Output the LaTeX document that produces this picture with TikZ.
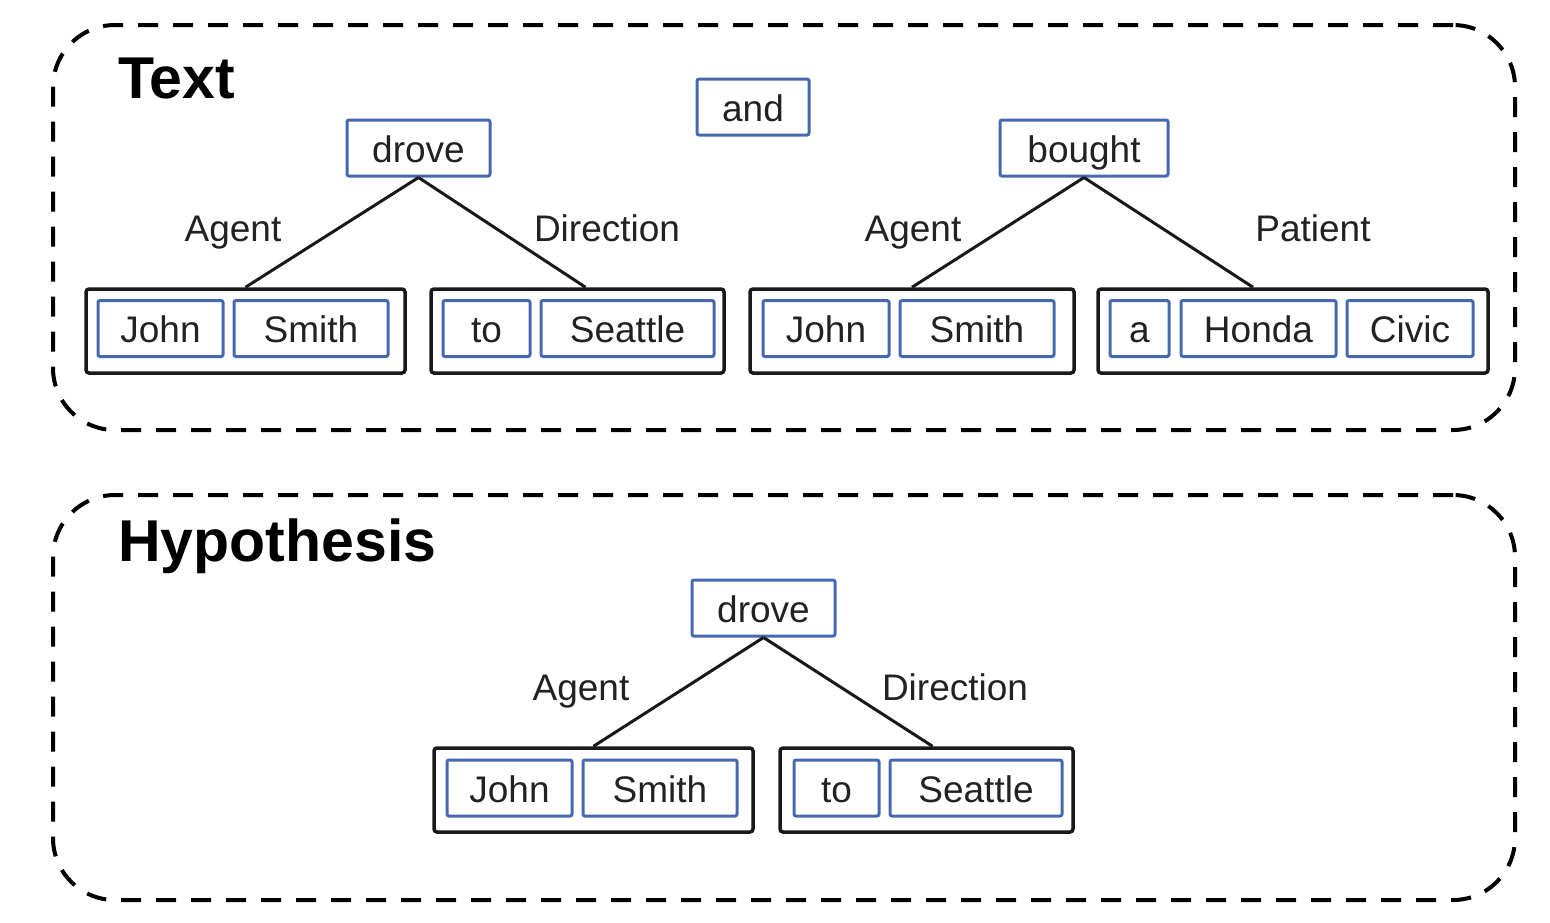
\documentclass[tikz,border=0pt]{standalone}
\usepackage{fontspec}
\setmainfont{Liberation Sans}
\definecolor{wblue}{RGB}{70,104,176}
\definecolor{ink}{RGB}{34,34,34}
\begin{document}
\begin{tikzpicture}[x=1pt,y=-1pt,
  frame/.style={draw=black,line width=4pt,dash pattern=on 20pt off 15pt,rounded corners=62pt,inner sep=0pt},
  word/.style={draw=wblue,line width=3pt,rounded corners=2pt,minimum height=56pt,inner sep=0pt,
     font=\fontsize{37}{40}\selectfont,text=ink,text height=28pt,text depth=0pt},
  grp/.style={draw=black!90,line width=3.5pt,rounded corners=3pt,minimum height=84pt,inner sep=0pt},
  rel/.style={font=\fontsize{37}{40}\selectfont,text=ink,inner sep=0pt,anchor=base},
  title/.style={font=\fontsize{59}{62}\bfseries\selectfont,text=black,inner sep=0pt,anchor=base west},
  link/.style={draw=black!90,line width=3pt}]
\useasboundingbox (0,0) rectangle (1550,922);

% frames
\node[frame,minimum width=1462pt,minimum height=405pt] (frameT) at (784,227.5) {};
\node[frame,minimum width=1462pt,minimum height=405pt] (frameH) at (784,697.5) {};
\node[title] (tText) at (118,98) {Text};
\node[title] (tHyp) at (118,561) {Hypothesis};

% ---- Text part
\node[word,minimum width=143pt] (drove1) at (418.5,148) {drove};
\node[word,minimum width=112pt] (and) at (753,107) {and};
\node[word,minimum width=168pt] (bought) at (1084,148) {bought};

\node[grp,minimum width=319pt] (g1) at (245.5,331) {};
\node[grp,minimum width=293pt] (g2) at (577.5,331) {};
\node[grp,minimum width=324pt] (g3) at (912,331) {};
\node[grp,minimum width=390pt] (g4) at (1293,331) {};

\node[word,minimum width=125pt] (j1) at (160.5,328.5) {John};
\node[word,minimum width=154pt] (s1) at (311,328.5) {Smith};
\node[word,minimum width=87pt] (to1) at (486.5,328.5) {to};
\node[word,minimum width=173pt] (se1) at (627.5,328.5) {Seattle};
\node[word,minimum width=126pt] (j2) at (826,328.5) {John};
\node[word,minimum width=154pt] (s2) at (977,328.5) {Smith};
\node[word,minimum width=59pt] (a) at (1139.5,328.5) {a};
\node[word,minimum width=155pt] (ho) at (1258.5,328.5) {Honda};
\node[word,minimum width=126pt] (ci) at (1410,328.5) {Civic};

\draw[link] (drove1.south) -- (g1.north);
\draw[link] (drove1.south) -- ([xshift=8pt]g2.north);
\draw[link] (bought.south) -- (g3.north);
\draw[link] (bought.south) -- ([xshift=-40pt]g4.north);

\node[rel] (ag1) at (233,241) {Agent};
\node[rel] (di1) at (607,241) {Direction};
\node[rel] (ag2) at (913,241) {Agent};
\node[rel] (pa1) at (1313,241) {Patient};

% ---- Hypothesis part
\node[word,minimum width=143pt] (drove2) at (763.5,608) {drove};
\node[grp,minimum width=319pt] (h1) at (593.5,790) {};
\node[grp,minimum width=293pt] (h2) at (926.5,790) {};
\node[word,minimum width=125pt] (j3) at (509.5,788) {John};
\node[word,minimum width=154pt] (s3) at (660,788) {Smith};
\node[word,minimum width=85pt] (to2) at (836.5,788) {to};
\node[word,minimum width=172pt] (se2) at (976,788) {Seattle};

\draw[link] (drove2.south) -- (h1.north);
\draw[link] (drove2.south) -- ([xshift=6pt]h2.north);

\node[rel] (ag3) at (581,700) {Agent};
\node[rel] (di2) at (955,700) {Direction};
\end{tikzpicture}
\end{document}
